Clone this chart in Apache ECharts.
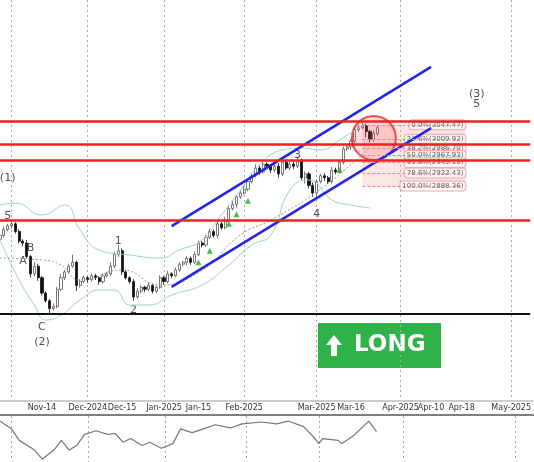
<!DOCTYPE html>
<html><head><meta charset="utf-8">
<script src="https://cdn.jsdelivr.net/npm/echarts@6/dist/echarts.min.js"></script>
<style>html,body{margin:0;padding:0;background:#fff}#c{width:534px;height:462px}</style>
</head><body><div id="c"></div>
<script>
// closing prices, one candle per slot
const closes = [2760,2775,2785,2790,2770,2745,2740,2705,2660,2680,
  2650,2610,2590,2570,2575,2620,2650,2665,2680,2690,
  2630,2640,2650,2645,2655,2650,2640,2655,2660,2680,
  2710,2720,2665,2650,2640,2600,2615,2625,2620,2630,
  2615,2625,2650,2640,2660,2655,2670,2685,2690,2700,
  2690,2710,2740,2735,2755,2770,2760,2790,2780,2800,
  2830,2840,2860,2870,2880,2900,2915,2935,2925,2945,
  2940,2930,2940,2920,2950,2935,2945,2940,2955,2910,
  2920,2890,2870,2900,2915,2910,2900,2930,2925,2950,
  2985,2990,3005,3035,3040,3045,3030,3010,3025,3040];
const wickUp = [6,8,5,10,4,6,5,8,4,10, 6,4,5,4,8,6,10,5,6,20, 4,6,5,4,6,5,4,6,5,10, 8,15,6,5,4,6,8,5,4,6, 5,4,6,5,8,4,6,5,4,6, 5,8,6,5,6,8,5,6,5,8, 6,10,5,6,8,5,6,10,6,8, 5,6,5,8,10,6,5,6,8,5, 6,5,8,6,5,6,5,8,6,5, 6,8,5,6,8,10,6,5,8,6];
const wickDn = [5,6,4,8,5,6,8,5,10,6, 8,6,5,15,6,5,4,6,5,4, 15,6,5,8,5,6,8,5,4,6, 5,6,8,5,6,10,5,6,8,5, 6,5,4,8,5,6,4,5,6,8, 6,5,4,6,5,4,6,8,5,4, 6,5,8,5,4,6,5,4,8,5, 6,8,5,10,6,5,6,8,5,6, 15,8,10,6,5,8,6,5,6,4, 5,6,8,5,6,4,15,8,6,5];
const slotCount = 140;
const tickLabels = {3:'Nov-2024',11:'Nov-14',23:'Dec-2024',32:'Dec-15',43:'Jan-2025',52:'Jan-15',64:'Feb-2025',83:'Mar-2025',92:'Mar-16',105:'Apr-2025',113:'Apr-10',121:'Apr-18',134:'May-2025'};
const monthSlots = [3,23,43,64,83,105,134];
const bandUpper = [[0,2839],[4,2844],[10.5,2813],[17,2839],[21,2774],[26,2722],[34,2709],[42,2701],[47,2722],[52.5,2748],[58,2813],[63,2878],[68,2943],[73.5,2982],[79,2987],[84,2982],[89,3008],[97,3060]];
const bandLower = [[0,2748],[5,2644],[9,2579],[12,2540],[16,2553],[21,2592],[26,2618],[30,2618],[34,2579],[39,2579],[45,2605],[52.5,2631],[60,2683],[66,2735],[71,2761],[76,2878],[81,2904],[87,2852],[92,2839],[97,2831]];
const bandMid = [[0,2701],[10.5,2696],[16,2683],[21,2644],[31.5,2670],[42,2631],[52.5,2670],[63,2761],[71,2800],[84,2880],[97,2990]];
const channelUpper = [[45.4,2784],[113.4,3198]];
const channelLower = [[45.4,2626],[113.4,3039]];
const redLevels = [3057,2997,2955,2799];
const blackLevel = 2557;
const fibLevels = [['0.0%',3047.47],['23.6%',3009.92],['38.2%',2986.70],['50.0%',2967.93],['61.8%',2949.15],['78.6%',2922.43],['100.0%',2888.36]];
const waveLabels = [['(1)',1.6,2909],['5',2.1,2810],['B',7.6,2727],['A',6.3,2693],['C',11.3,2522],['(2)',11.3,2483],['1',30.7,2745],['2',35.2,2566],['3',78.2,2969],['4',82.7,2816],['(3)',124.7,3128],['5',124.7,3102]];
const buySignals = [[52,2690],[55,2720],[60,2790],[62,2815],[65,2850],[89,2930]];
const oscillator = [[0,89],[2.6,72],[5.2,47],[9.2,26],[11,6],[14.4,26],[16.3,47],[18.4,26],[19.7,36],[22.3,60],[25,68],[27.6,60],[30.2,62],[31.5,43],[34.1,51],[36.7,36],[39.4,43],[42,30],[44.6,40],[47.2,72],[49.9,64],[52.5,72],[56.4,81],[60.4,74],[63,83],[68.2,87],[72.2,83],[74.8,89],[78.7,77],[81.9,51],[82.9,40],[84,51],[87.9,47],[89.2,40],[91.9,57],[95.8,89],[97.6,66]];

const cats = Array.from({length: slotCount}, (_, i) => String(i));
const candles = closes.map((c, i) => {
  const o = i === 0 ? 2750 : closes[i - 1];
  return [o, c, Math.min(o, c) - wickDn[i], Math.max(o, c) + wickUp[i]];
});

const chart = echarts.init(document.getElementById('c'));
const isMonth = i => monthSlots.includes(i);
const xBase = {
  type: 'category', data: cats, boundaryGap: false,
  axisTick: {show: false}, axisLine: {show: false},
  splitLine: {show: true, interval: (i) => isMonth(i), lineStyle: {color: '#aaa', type: [2, 3], width: 1}}
};
chart.setOption({
  animation: false,
  grid: [{left: 0, right: 0, top: 0, height: 400}, {left: 0, right: 0, top: 416, height: 46}],
  xAxis: [
    Object.assign({}, xBase, {gridIndex: 0, axisLabel: {show: true, interval: (i) => tickLabels[i] !== undefined, formatter: (v) => tickLabels[v] || '', fontSize: 8, color: '#333', margin: 4, fontFamily: 'DejaVu Sans'}}),
    Object.assign({}, xBase, {gridIndex: 1, axisLabel: {show: false}})
  ],
  yAxis: [
    {gridIndex: 0, min: 2332, max: 3372, show: false},
    {gridIndex: 1, min: 0, max: 100, show: false}
  ],
  graphic: [
    {type: 'line', shape: {x1: 0, y1: 401, x2: 534, y2: 401}, style: {stroke: '#999', lineWidth: 1}},
    {type: 'line', shape: {x1: 0, y1: 415, x2: 534, y2: 415}, style: {stroke: '#555', lineWidth: 1.5}},
    {type: 'group', left: 318, top: 323, children: [
      {type: 'rect', shape: {x: 0, y: 0, width: 123, height: 45}, style: {fill: '#2fb24a'}},
      {type: 'polygon', shape: {points: [[16, 12], [24, 22], [19, 22], [19, 33], [13, 33], [13, 22], [8, 22]]}, style: {fill: '#fff'}},
      {type: 'text', x: 36, y: 11, style: {text: 'LONG', fill: '#fff', font: 'bold 23px "DejaVu Sans"'}}
    ]}
  ],
  series: [
    {type: 'line', data: bandUpper, smooth: true, symbol: 'none', lineStyle: {color: '#9fcfcf', width: 1}},
    {type: 'line', data: bandLower, smooth: true, symbol: 'none', lineStyle: {color: '#9fcfcf', width: 1}},
    {type: 'line', data: bandMid, smooth: true, symbol: 'none', lineStyle: {color: '#999', width: 1, type: [2, 2]}},
    {type: 'line', data: channelUpper, symbol: 'none', lineStyle: {color: '#2424e8', width: 2.5}},
    {type: 'line', data: channelLower, symbol: 'none', lineStyle: {color: '#2424e8', width: 2.5},
      markLine: {silent: true, symbol: 'none', label: {show: false},
        data: redLevels.map(v => ({yAxis: v, lineStyle: {color: '#ee2222', width: 2.5, type: 'solid'}}))
          .concat([{yAxis: blackLevel, lineStyle: {color: '#111', width: 2, type: 'solid'}}])}},
    {type: 'line', data: fibLevels.map(f => [95, f[1]]), symbol: 'none', lineStyle: {width: 0},
      markArea: {silent: true, itemStyle: {color: 'rgba(240,150,150,0.25)'}, data: [[{coord: [95, fibLevels[0][1]]}, {coord: [122, fibLevels[6][1]]}]]},
      markLine: {silent: true, symbol: 'none', label: {show: false}, lineStyle: {color: '#e88', width: 1, type: [3, 2]},
        data: fibLevels.map(f => [{coord: [95, f[1]]}, {coord: [121, f[1]]}])}},
    {type: 'candlestick', data: candles, barWidth: 2.6,
      itemStyle: {color: '#fff', borderColor: '#555', color0: '#111', borderColor0: '#111', borderWidth: 0.8}},
    {type: 'scatter', data: [[98.2, 3013]], symbolSize: 44, itemStyle: {color: 'rgba(240,80,80,0.25)', borderColor: '#e22', borderWidth: 2}},
    {type: 'scatter', data: buySignals, symbol: 'triangle', symbolSize: 6, itemStyle: {color: '#2a2'}},
    {type: 'scatter', data: fibLevels.map(f => [121.6, f[1], f[0] + '(' + f[1].toFixed(2) + ')']), symbolSize: 0,
      label: {show: true, position: 'left', distance: 0, formatter: p => p.data[2], fontSize: 7, color: '#333', fontFamily: 'DejaVu Sans',
        backgroundColor: '#fff', borderColor: '#e99', borderWidth: 1, borderRadius: 3, padding: [1, 2]}},
    {type: 'scatter', data: waveLabels.map(w => [w[1], w[2], w[0]]), symbolSize: 0,
      label: {show: true, position: 'inside', formatter: p => p.data[2], fontSize: 11, color: '#222', fontFamily: 'DejaVu Sans'}},
    {type: 'line', xAxisIndex: 1, yAxisIndex: 1, data: oscillator, symbol: 'none', lineStyle: {color: '#777', width: 1.2}}
  ]
});
</script></body></html>
